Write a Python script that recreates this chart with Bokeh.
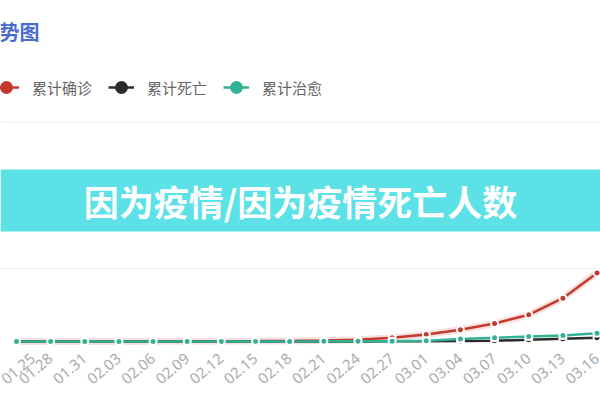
from bokeh.plotting import figure
from bokeh.models import Range1d, FixedTicker, Label, BoxAnnotation, Legend, LegendItem
from bokeh.embed import file_html
from bokeh.resources import INLINE

# ---- data ----
dates = ["01.25", "01.28", "01.31", "02.03", "02.06", "02.09", "02.12", "02.15", "02.18",
         "02.21", "02.24", "02.27", "03.01", "03.04", "03.07", "03.10", "03.13", "03.16"]
confirmed = [30, 60, 100, 150, 200, 300, 400, 550, 850,
             1300, 2300, 5000, 9500, 16000, 24700, 36600, 59300, 94000]
deaths = [0, 1, 2, 3, 5, 10, 15, 25, 40,
          60, 100, 200, 400, 600, 1000, 2300, 3700, 5000]
recovered = [0, 2, 5, 10, 20, 40, 60, 100, 150,
             200, 300, 500, 1000, 3300, 5000, 6800, 8200, 11400]
series_names = ["累计确诊", "累计死亡", "累计治愈"]
grid_values = [100000, 200000, 300000]
title_text = "势图"
banner_text = "因为疫情/因为疫情死亡人数"

colors = ["#c4392b", "#2b2b2b", "#33b293"]

W, H = 600, 400
STEP = 34.15          # px per category
X0 = -16 / STEP
X1 = X0 + W / STEP
PX_PER_UNIT = 73 / 100000
Y0 = -5 / PX_PER_UNIT
Y1 = 341 / PX_PER_UNIT


def X(px):
    return X0 + px / STEP


def Y(py):
    return (341 - py) / PX_PER_UNIT


xs = list(range(len(dates)))

p = figure(width=W, height=H, output_backend="svg", toolbar_location=None,
           x_range=Range1d(X0, X1), y_range=Range1d(Y0, Y1),
           y_axis_location=None, min_border=0, min_border_bottom=54,
           background_fill_color="white", border_fill_color="white")
p.outline_line_color = None

p.xaxis.ticker = FixedTicker(ticks=xs)
p.xaxis.major_label_overrides = {i: d for i, d in enumerate(dates)}
p.xaxis.major_label_orientation = 0.70
p.xaxis.major_label_text_align = "right"
p.xaxis.major_label_text_baseline = "middle"
p.xaxis.axis_line_color = None
p.xaxis.major_tick_line_color = None
p.xaxis.minor_tick_line_color = None
p.xaxis.major_label_text_color = "#ababab"
p.xaxis.major_label_text_font = "Noto Sans"
p.xaxis.major_label_text_font_size = "15px"
p.xaxis.major_label_standoff = 4

p.xgrid.visible = False
p.ygrid.ticker = FixedTicker(ticks=grid_values)
p.ygrid.grid_line_color = "#eeeeee"
p.ygrid.grid_line_width = 1

# halo under the confirmed line
p.line(xs, confirmed, line_width=7, line_color=colors[0], line_alpha=0.15)

items = []
for name, vals, c in zip(series_names, [confirmed, deaths, recovered], colors):
    lr = p.line(xs, vals, line_width=2.5, line_color=c)
    # solid marker used for the legend (hidden beneath the ringed markers)
    solid = p.scatter(xs, vals, size=4, fill_color=c, line_color=c, line_width=2.5)
    p.scatter(xs, vals, size=7, fill_color=c, line_color="white", line_width=2)
    items.append(LegendItem(label=name, renderers=[lr, solid]))

legend = Legend(items=items, orientation="horizontal", location=(-7, 246),
                glyph_width=26, glyph_height=26, label_height=26,
                label_standoff=13, spacing=16, padding=0, margin=0,
                border_line_color=None, background_fill_alpha=0,
                label_text_font="Noto Sans CJK SC", label_text_font_size="15px",
                label_text_color="#666666")
p.add_layout(legend)

p.add_layout(Label(x=X(-1), y=Y(30.5), text=title_text, text_font="Noto Sans CJK SC",
                   text_font_size="20px", text_font_style="bold", text_color="#4a6bd0",
                   text_baseline="middle", text_align="left"))

p.add_layout(BoxAnnotation(top=Y(169), bottom=Y(231), fill_color="#5ce1e6", fill_alpha=1,
                           line_alpha=0, level="overlay"))
p.add_layout(Label(x=X(300), y=Y(200), text=banner_text, text_font="Noto Sans CJK SC",
                   text_font_size="35px", text_font_style="bold", text_color="white",
                   text_align="center", text_baseline="middle", level="overlay"))

open("out.html", "w").write(file_html(p, INLINE))
